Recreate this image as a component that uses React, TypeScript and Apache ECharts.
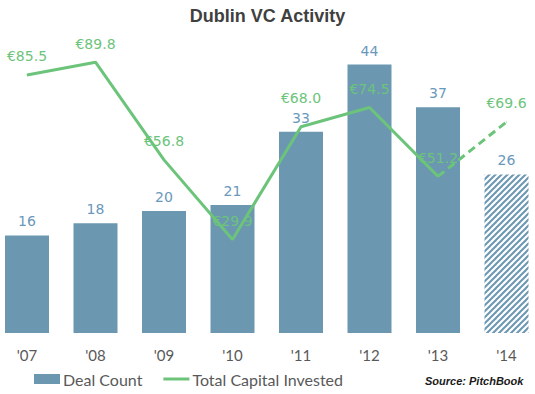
import React, { useEffect, useRef } from "react";
import * as echarts from "echarts";

const categories = ["'07", "'08", "'09", "'10", "'11", "'12", "'13", "'14"];
const dealCount = [16, 18, 20, 21, 33, 44, 37, 26];
const capitalInvested = [85.5, 89.8, 56.8, 29.9, 68.0, 74.5, 51.2, 69.6];
const projectedIndex = 7; // '14 shown hatched / dashed

const BLUE = "#6b97b1";
const LABEL_BLUE = "#6a98bb";
const GREEN = "#6cc47b";

// the chart canvas is shifted 8px left so the first category can start off-page
const SHIFT = 8;

function makeHatch(): string {
  const s = 6;
  const c = document.createElement("canvas");
  c.width = s;
  c.height = s;
  const ctx = c.getContext("2d")!;
  ctx.fillStyle = "#ffffff";
  ctx.fillRect(0, 0, s, s);
  ctx.strokeStyle = BLUE;
  ctx.lineWidth = 2;
  for (let k = -1; k <= 1; k++) {
    ctx.beginPath();
    ctx.moveTo(k * s - 1, s + 1);
    ctx.lineTo(k * s + s + 1, -1);
    ctx.stroke();
  }
  return c.toDataURL();
}

export default function App() {
  const ref = useRef<HTMLDivElement>(null);
  useEffect(() => {
    if (!ref.current) return;
    const chart = echarts.init(ref.current, undefined, { renderer: "svg" });
    const hatch = makeHatch();

    const barData = dealCount.map((v, i) =>
      i === projectedIndex
        ? { value: v, itemStyle: { color: { image: hatch, repeat: "repeat" } as any } }
        : v
    );

    const solidData = capitalInvested.map((v, i) => {
      if (i === projectedIndex) return null;
      if (i === 4) return { value: v, label: { offset: [0, -10] } };
      return v;
    });
    const dashedData = capitalInvested.map((v, i) => {
      if (i === projectedIndex - 1) return { value: v, label: { show: false } };
      if (i === projectedIndex) return v;
      return null;
    });

    const lineLabel = {
      show: true,
      position: "top",
      distance: 11,
      color: GREEN,
      fontFamily: "DejaVu Sans",
      fontSize: 14,
      formatter: (p: any) => "€" + Number(p.value).toFixed(1),
    };

    chart.setOption({
      animation: false,
      title: {
        text: "Dublin VC Activity",
        left: "center",
        top: 2,
        textStyle: {
          fontFamily: "Liberation Sans",
          fontWeight: "bold",
          fontSize: 18,
          color: "#404040",
        },
      },
      legend: {
        left: 34 + SHIFT,
        top: 371,
        padding: 0,
        itemGap: 21,
        itemWidth: 26,
        itemHeight: 10,
        textStyle: {
          fontFamily: "Lato",
          fontSize: 16,
          color: "#595959",
          padding: [0, 0, 0, -2],
        },
        data: [
          { name: "Deal Count", icon: "rect" },
          {
            name: "Total Capital Invested",
            icon: "path://M0,0H26V0.001H0Z M0,3.5H26V6.5H0Z M0,10H26V9.999H0Z",
          },
        ],
      },
      grid: { left: 0.75, right: 2.25, top: 28, bottom: 61, containLabel: false },
      xAxis: {
        type: "category",
        data: categories,
        axisLine: { show: false },
        axisTick: { show: false },
        axisLabel: {
          margin: 14,
          fontFamily: "Lato",
          fontSize: 15,
          color: "#595959",
        },
      },
      yAxis: [
        { type: "value", min: 0, max: 50, show: false },
        { type: "value", min: -1.7, max: 101.35, show: false },
      ],
      series: [
        {
          name: "Deal Count",
          type: "bar",
          yAxisIndex: 0,
          barWidth: 44,
          itemStyle: { color: BLUE },
          label: {
            show: true,
            position: "top",
            distance: 7,
            color: LABEL_BLUE,
            fontFamily: "DejaVu Sans",
            fontSize: 14,
          },
          data: barData,
          z: 1,
        },
        {
          name: "Total Capital Invested",
          type: "line",
          yAxisIndex: 1,
          symbol: "circle",
          symbolSize: 1,
          showSymbol: true,
          itemStyle: { color: GREEN },
          lineStyle: { color: GREEN, width: 3 },
          label: lineLabel,
          data: solidData,
          z: 3,
        },
        {
          name: "Projected",
          type: "line",
          yAxisIndex: 1,
          symbol: "circle",
          symbolSize: 1,
          showSymbol: true,
          itemStyle: { color: GREEN },
          lineStyle: { color: GREEN, width: 3, type: [8, 5] },
          label: lineLabel,
          data: dashedData,
          z: 3,
        },
      ],
      graphic: [
        {
          type: "text",
          left: 425 + SHIFT,
          top: 375,
          style: {
            text: "Source: PitchBook",
            fontFamily: "Liberation Sans",
            fontStyle: "italic",
            fontWeight: "bold",
            fontSize: 11,
            fill: "#1a1a1a",
          },
        },
      ],
    });
    return () => chart.dispose();
  }, []);

  return (
    <div
      ref={ref}
      style={{
        position: "fixed",
        left: -SHIFT,
        top: 0,
        width: 535 + SHIFT * 2,
        height: 394,
        background: "#fff",
      }}
    />
  );
}
